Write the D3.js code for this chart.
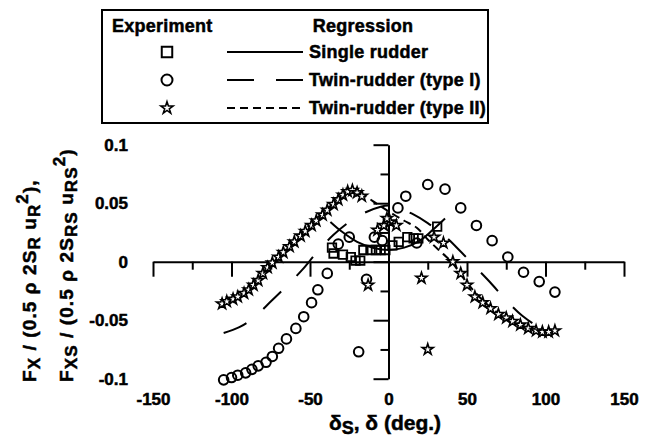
<!DOCTYPE html>
<html>
<head>
<meta charset="utf-8">
<script src="https://cdn.jsdelivr.net/npm/d3@7"></script>
<style>
  html, body { margin: 0; padding: 0; background: #fff; }
  svg { display: block; font-family: "Liberation Sans", Arial, Helvetica, sans-serif; font-weight: bold; }
  svg text { stroke: #000; stroke-width: 0.5px; }
</style>
</head>
<body>
<svg id="chart" width="650" height="439"></svg>
<script>
// Axis ticks and labels
const xMajorTicks = [-150, -100, -50, 0, 50, 100, 150];
const xMinorTicks = [-125, -75, -25, 25, 75, 125];
const xTickLabels = ["-150", "-100", "-50", "0", "50", "100", "150"];
const yMajorTicks = [-0.1, -0.05, 0, 0.05, 0.1];
const yMinorTicks = [-0.075, -0.025, 0.025, 0.075];
const yTickLabels = ["-0.1", "-0.05", "0", "0.05", "0.1"];

// Experiment: single rudder (squares), [delta, Fx]
const singleExp = [
  [-36, 0.012], [-35, 0.007], [-29, 0.006], [-24, 0.004], [-21, 0.001], [-18, 0.001],
  [-16, 0.010], [-11.5, 0.010], [-8, 0.010], [-5, 0.010], [-2, 0.010], [2.5, 0.014],
  [6.5, 0.017], [12, 0.021], [16, 0.020], [19, 0.020], [31, 0.030]
];

// Experiment: twin-rudder type I (circles)
const twinIExp = [
  [-105, -0.101], [-100, -0.099], [-96, -0.097], [-91, -0.095], [-87, -0.092], [-83, -0.089],
  [-78, -0.086], [-74, -0.081], [-70, -0.074], [-65, -0.066], [-59, -0.057], [-54, -0.047],
  [-49, -0.035], [-45, -0.024], [-39, -0.010],
  [-32, 0.015], [-25, 0.021], [-19, -0.077], [-14, -0.015], [-9, 0.021], [-4, 0.018],
  [6, 0.046], [11, 0.056], [18, 0.016],
  [25, 0.066], [36, 0.062], [46, 0.046], [56, 0.031], [66, 0.018], [76, 0.004],
  [86, -0.009], [96, -0.017], [106, -0.026]
];

// Experiment: twin-rudder type II (stars)
const twinIIExp = [
  [-106, -0.036], [-103, -0.034], [-99, -0.032], [-96, -0.030], [-92, -0.027], [-89, -0.024],
  [-86, -0.020], [-83, -0.016], [-80, -0.010], [-77, -0.005], [-74, -0.001], [-70, 0.004],
  [-67, 0.008], [-63, 0.013], [-60, 0.017], [-56, 0.022], [-53, 0.026], [-49, 0.031],
  [-46, 0.035], [-42, 0.040], [-39, 0.044], [-35, 0.049], [-32, 0.053], [-29, 0.057],
  [-26, 0.060], [-23, 0.061], [-20, 0.059], [-17, 0.056],
  [-13, -0.020], [-7, 0.027], [-3, 0.031], [1, 0.034], [5, 0.031], [-1, 0.037],
  [21, -0.014], [25, -0.075],
  [29, 0.021], [35, 0.016], [41, 0.000], [46, -0.010], [50, -0.020], [55, -0.030],
  [60, -0.035], [65, -0.040], [70, -0.045], [75, -0.048], [79, -0.051], [84, -0.054],
  [89, -0.057], [94, -0.059], [98, -0.060], [102, -0.060], [106, -0.059]
];

// Regression curves
const singleReg = [
  [-37, 0.034], [-30, 0.026], [-20, 0.017], [-10, 0.012], [0, 0.010], [10, 0.012],
  [20, 0.018], [28, 0.027], [36, 0.037]
];
const twinIReg = [
  [-105, -0.061], [-95, -0.056], [-85, -0.047], [-75, -0.034], [-65, -0.021], [-55, -0.007],
  [-45, 0.009], [-35, 0.023], [-25, 0.034], [-15, 0.042], [-5, 0.047], [0, 0.048],
  [5, 0.047], [15, 0.041], [25, 0.033], [35, 0.023], [45, 0.010], [55, -0.004],
  [65, -0.018], [75, -0.033], [85, -0.046], [95, -0.055], [105, -0.060]
];
const twinIIReg = [
  [-106, -0.037], [-95, -0.030], [-85, -0.019], [-75, -0.003], [-65, 0.011], [-55, 0.025],
  [-45, 0.038], [-35, 0.050], [-28, 0.058], [-22, 0.060], [-15, 0.056], [-8, 0.050],
  [0, 0.043], [10, 0.035], [18, 0.029], [25, 0.019], [32, 0.010], [40, 0.000],
  [50, -0.018], [60, -0.033], [70, -0.044], [80, -0.051], [90, -0.057], [100, -0.059],
  [108, -0.060]
];

const legendExperimentTitle = "Experiment";
const legendRegressionTitle = "Regression";
const seriesNames = ["Single rudder", "Twin-rudder (type I)", "Twin-rudder (type II)"];

const svg = d3.select("#chart");
const x = d3.scaleLinear().domain([-150, 150]).range([153, 624]);
const y = d3.scaleLinear().domain([-0.1, 0.1]).range([378.7, 144.7]);

const ink = "#000";
const tickFont = 17;

// x axis along y = 0, ticks pointing down, labels below the plot
const xAxisY = y(0);
const labelBaseline = 405;
const xLabelPad = labelBaseline - xAxisY - 15 - 0.71 * tickFont;
const gx = svg.append("g").attr("transform", `translate(0,${xAxisY})`);
gx.call(d3.axisBottom(x).tickValues(xMajorTicks).tickSize(15).tickSizeOuter(0)
  .tickPadding(xLabelPad).tickFormat((d, i) => xTickLabels[i]));
const gxMinor = svg.append("g").attr("transform", `translate(0,${xAxisY})`);
gxMinor.call(d3.axisBottom(x).tickValues(xMinorTicks).tickSize(8).tickFormat(""));
gxMinor.select(".domain").remove();

// y axis along x = 0, ticks pointing left, labels at the left edge
const yAxisX = x(0);
const gy = svg.append("g").attr("transform", `translate(${yAxisX},0)`);
gy.call(d3.axisLeft(y).tickValues(yMajorTicks).tickSize(15).tickSizeOuter(0)
  .tickPadding(yAxisX - 128 - 15).tickFormat((d, i) => yTickLabels[i]));
const gyMinor = svg.append("g").attr("transform", `translate(${yAxisX},0)`);
gyMinor.call(d3.axisLeft(y).tickValues(yMinorTicks).tickSize(8).tickFormat(""));
gyMinor.select(".domain").remove();

svg.selectAll(".domain, .tick line").attr("stroke", ink).attr("stroke-width", 2);
svg.selectAll(".tick text").attr("fill", ink).attr("font-size", tickFont)
  .attr("font-family", "Liberation Sans, Arial, sans-serif").attr("font-weight", "bold");

// Regression lines
const line = d3.line().x(d => x(d[0])).y(d => y(d[1])).curve(d3.curveCatmullRom.alpha(0.5));
const lineStyles = [
  { data: singleReg, dash: null },
  { data: twinIReg, dash: "25,22" },
  { data: twinIIReg, dash: "8,5" }
];
lineStyles.forEach(s => {
  svg.append("path").attr("d", line(s.data)).attr("fill", "none")
    .attr("stroke", ink).attr("stroke-width", 2)
    .attr("stroke-dasharray", s.dash);
});

// Markers
const squareSym = d3.symbol().type(d3.symbolSquare).size(72);
const starSym = d3.symbol().type(d3.symbolStar).size(38);

svg.append("g").selectAll("path").data(singleExp).join("path")
  .attr("transform", d => `translate(${x(d[0])},${y(d[1])})`)
  .attr("d", squareSym()).attr("fill", "none").attr("stroke", ink).attr("stroke-width", 1.8);

svg.append("g").selectAll("circle").data(twinIExp).join("circle")
  .attr("cx", d => x(d[0])).attr("cy", d => y(d[1])).attr("r", 4.8)
  .attr("fill", "none").attr("stroke", ink).attr("stroke-width", 2);

svg.append("g").selectAll("path").data(twinIIExp).join("path")
  .attr("transform", d => `translate(${x(d[0])},${y(d[1])})`)
  .attr("d", starSym()).attr("fill", "#fff").attr("stroke", ink).attr("stroke-width", 1.6);

// Axis titles
const yTitle = svg.append("g").attr("font-size", 19).attr("fill", ink)
  .attr("letter-spacing", 1.1);
function addRotated(xPos, parts) {
  const t = yTitle.append("text")
    .attr("transform", `translate(${xPos},382) rotate(-90)`)
    .attr("text-anchor", "start");
  parts.forEach(p => {
    const ts = t.append("tspan").text(p.t);
    if (p.dy) ts.attr("dy", p.dy);
    if (p.fs) ts.attr("font-size", p.fs);
  });
}
addRotated(36, [
  { t: "F" }, { t: "X", dy: 4, fs: 17 }, { t: " / (0.5 ρ 2S", dy: -4 },
  { t: "R", dy: 4, fs: 17 }, { t: " u", dy: -4 }, { t: "R", dy: 4, fs: 17 },
  { t: "2", dy: -12, fs: 17 }, { t: "),", dy: 8 }
]);
addRotated(73, [
  { t: "F" }, { t: "XS", dy: 4, fs: 17 }, { t: " / (0.5 ρ 2S", dy: -4 },
  { t: "RS", dy: 4, fs: 17 }, { t: " u", dy: -4 }, { t: "RS", dy: 4, fs: 17 },
  { t: "2", dy: -12, fs: 17 }, { t: ")", dy: 8 }
]);

const xTitle = svg.append("text").attr("x", 385).attr("y", 430)
  .attr("text-anchor", "middle").attr("font-size", 21).attr("fill", ink);
xTitle.append("tspan").text("δ");
xTitle.append("tspan").text("S").attr("dy", 4).attr("font-size", 18);
xTitle.append("tspan").text(", δ (deg.)").attr("dy", -4);

// Legend
const lg = svg.append("g").attr("font-size", 18).attr("fill", ink).attr("letter-spacing", 0.25);
lg.append("rect").attr("x", 102).attr("y", 10).attr("width", 386).attr("height", 113)
  .attr("fill", "#fff").attr("stroke", ink).attr("stroke-width", 2);
lg.append("text").attr("x", 112).attr("y", 32).text(legendExperimentTitle);
lg.append("text").attr("x", 363).attr("y", 32).attr("text-anchor", "middle").text(legendRegressionTitle);

const rowY = [52, 80, 108];
seriesNames.forEach((name, i) => {
  const cy = rowY[i];
  const style = lineStyles[i];
  lg.append("line").attr("x1", 227).attr("x2", 303).attr("y1", cy).attr("y2", cy)
    .attr("stroke", ink).attr("stroke-width", 2)
    .attr("stroke-dasharray", i === 1 ? "27,22" : style.dash);
  lg.append("text").attr("x", 309).attr("y", cy + 6).text(name);
});
lg.append("path").attr("transform", `translate(167,${rowY[0]})`)
  .attr("d", d3.symbol().type(d3.symbolSquare).size(110)()).attr("fill", "none")
  .attr("stroke", ink).attr("stroke-width", 2);
lg.append("circle").attr("cx", 167).attr("cy", rowY[1]).attr("r", 5.5)
  .attr("fill", "none").attr("stroke", ink).attr("stroke-width", 2);
lg.append("path").attr("transform", `translate(167,${rowY[2]})`)
  .attr("d", d3.symbol().type(d3.symbolStar).size(45)()).attr("fill", "#fff")
  .attr("stroke", ink).attr("stroke-width", 1.6);
</script>
</body>
</html>
